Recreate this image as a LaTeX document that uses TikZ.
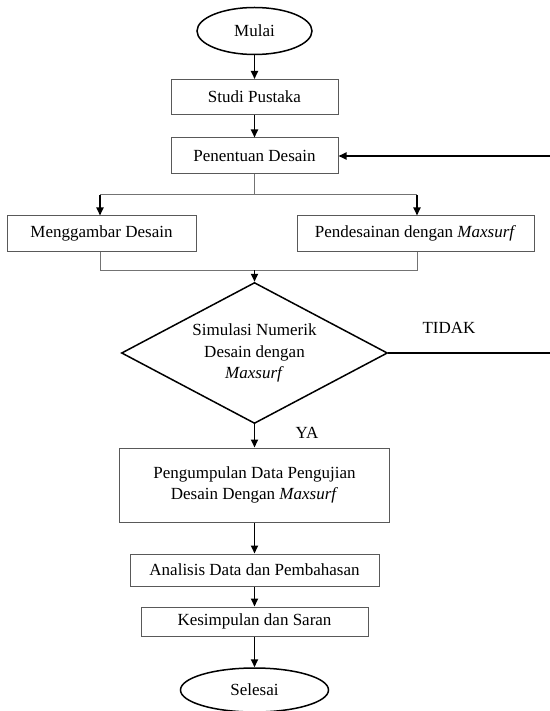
\documentclass[tikz,border=0pt]{standalone}
\usepackage{fontspec}
\setmainfont{Liberation Serif}
\usetikzlibrary{shapes.geometric,arrows.meta}
\begin{document}
\begin{tikzpicture}[x=1pt,y=-1pt,
 every node/.style={font=\fontsize{17}{21.5}\selectfont},
 box/.style={draw=black!65, line width=1pt, inner sep=0pt, align=center},
 term/.style={ellipse, draw=black, line width=1.5pt, inner sep=0pt},
 decision/.style={diamond, aspect=1.89, draw=black, line width=1.5pt, inner sep=0pt, align=center},
 arr/.style={-{Triangle[length=8pt,width=7pt]}, line width=1.8pt},
 thinline/.style={draw=black!55, line width=1pt},
 lbl/.style={inner sep=0pt},
]
\useasboundingbox (0,0) rectangle (549,711);
\node[term, minimum width=115pt, minimum height=47pt] (mulai) at (254.5,31) {Mulai};
\node[box, minimum width=167pt, minimum height=35pt] (studi) at (254.5,97) {Studi Pustaka};
\node[box, minimum width=167pt, minimum height=36pt] (pen) at (254.5,156) {Penentuan Desain};
\node[box, minimum width=189pt, minimum height=35pt] (meng) at (101.5,233.5) {Menggambar Desain};
\node[box, minimum width=237pt, minimum height=35pt] (pend) at (415.5,233.5) {Pendesainan dengan \textit{Maxsurf}};
\node[decision, minimum width=266pt, minimum height=141pt] (dia) at (254.5,353) {Simulasi Numerik\\Desain dengan\\\textit{Maxsurf}};
\node[box, minimum width=270pt, minimum height=74pt] (kumpul) at (254.5,485) {Pengumpulan Data Pengujian\\Desain Dengan \textit{Maxsurf}};
\node[box, minimum width=249pt, minimum height=32pt] (anal) at (254.5,570) {Analisis Data dan Pembahasan};
\node[box, minimum width=227pt, minimum height=29pt] (kes) at (254.5,621.5) {Kesimpulan dan Saran};
\node[term, minimum width=148pt, minimum height=44pt] (sel) at (254.5,690) {Selesai};
\node[lbl] (tidak) at (449,328) {TIDAK};
\node[lbl] (ya) at (307,433) {YA};

\coordinate (sL) at (100,195);
\coordinate (sR) at (417,195);
\coordinate (mL) at (100,270);
\coordinate (mR) at (417,270);
\coordinate (fbR) at (551,353);

\draw[arr] (mulai.south) -- (studi.north);
\draw[arr] (studi.south) -- (pen.north);
\draw[thinline] (pen.south) -- (pen.south |- sL);
\draw[thinline] (sL) -- (sR);
\draw[arr] (sL) -- (sL |- meng.north);
\draw[arr] (sR) -- (sR |- pend.north);
\draw[thinline] (sL |- meng.south) -- (mL) -- (mR) -- (sR |- pend.south);
\draw[arr] (dia.north |- mL) -- (dia.north);
\draw[arr] (dia.east) -- (fbR) |- (pen.east);
\draw[arr] (dia.south) -- (kumpul.north);
\draw[arr] (kumpul.south) -- (anal.north);
\draw[arr] (anal.south) -- (kes.north);
\draw[arr] (kes.south) -- (sel.north);
\end{tikzpicture}
\end{document}
